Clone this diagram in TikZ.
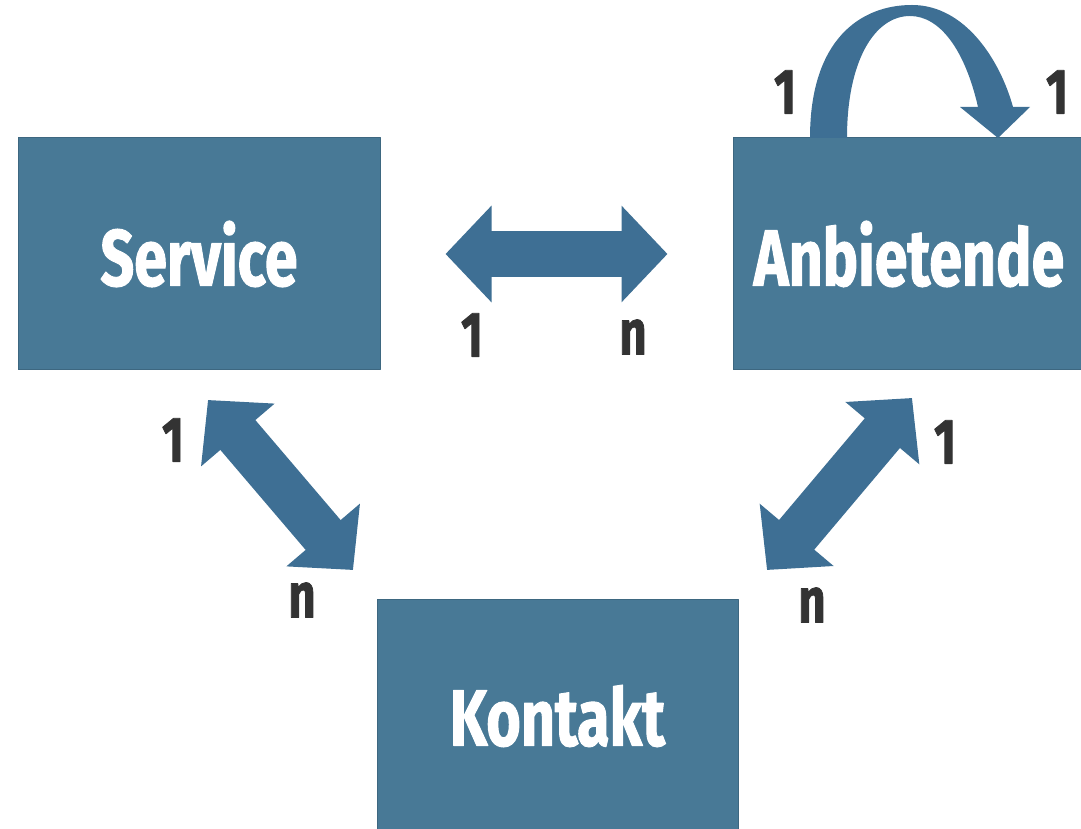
\documentclass[tikz,border=0pt]{standalone}
\usepackage{fontspec}
\setmainfont{Fira Sans}[FakeStretch=0.74,BoldFeatures={FakeBold=1.2}]
\usetikzlibrary{arrows.meta}
\definecolor{boxblue}{RGB}{72,121,150}
\definecolor{arrowblue}{RGB}{62,111,148}
\definecolor{labelgray}{RGB}{51,51,51}
\begin{document}
\begin{tikzpicture}[line join=bevel,
  entity/.style={draw=boxblue!85!black,line width=1bp,fill=boxblue,rectangle,
    minimum height=232bp,text=white,font=\fontsize{80bp}{80bp}\selectfont\bfseries},
  card/.style={text=labelgray,font=\fontsize{64bp}{64bp}\selectfont\bfseries},
  blockarrow/.style={arrowblue,line width=46bp,
    {Triangle[length=46bp,width=94bp]}-{Triangle[length=46bp,width=94bp]}},
]
\useasboundingbox (0bp,0bp) rectangle (1081bp,829bp);
%%
\node (svc) at (199bp,575bp) [entity,minimum width=362bp] {Service};
  \node (anb) at (909bp,575bp) [entity,minimum width=352bp] {Anbietende};
  \node (kon) at (557.5bp,113bp) [entity,minimum width=361bp] {Kontakt};
  \coordinate (svc_in) at (208bp,429bp);
  \coordinate (kon_svc) at (353bp,259bp);
  \coordinate (anb_in) at (912bp,431bp);
  \coordinate (kon_anb) at (767bp,259bp);
  \node (c_self1) at (785bp,737bp) [card] {1};
  \node (c_self2) at (1057bp,737bp) [card] {1};
  \node (c_svc1) at (472bp,494bp) [card] {1};
  \node (c_anbn) at (633bp,492bp) [card] {n};
  \node (c_svc2) at (173bp,389bp) [card] {1};
  \node (c_kon1) at (302bp,229bp) [card] {n};
  \node (c_anb2) at (945bp,387bp) [card] {1};
  \node (c_kon2) at (812bp,224bp) [card] {n};
  \draw [blockarrow,shorten <=65bp,shorten >=65bp] (svc.east) -- (anb.west);
  \draw [blockarrow] (svc_in) -- (kon_svc);
  \draw [blockarrow] (anb_in) -- (kon_anb);
  \fill [arrowblue] (810bp,691bp) .. controls (810bp,789bp) and (860bp,824bp) .. (912bp,824bp)
    .. controls (965bp,824bp) and (1000bp,769bp) .. (1013bp,722bp)
    -- (1030bp,722bp) -- (998bp,691bp) -- (960bp,722bp) -- (978bp,722bp)
    .. controls (965bp,779bp) and (940bp,813bp) .. (910bp,813bp)
    .. controls (875bp,813bp) and (847bp,769bp) .. (847bp,691bp) -- cycle;
%
\end{tikzpicture}
\end{document}
